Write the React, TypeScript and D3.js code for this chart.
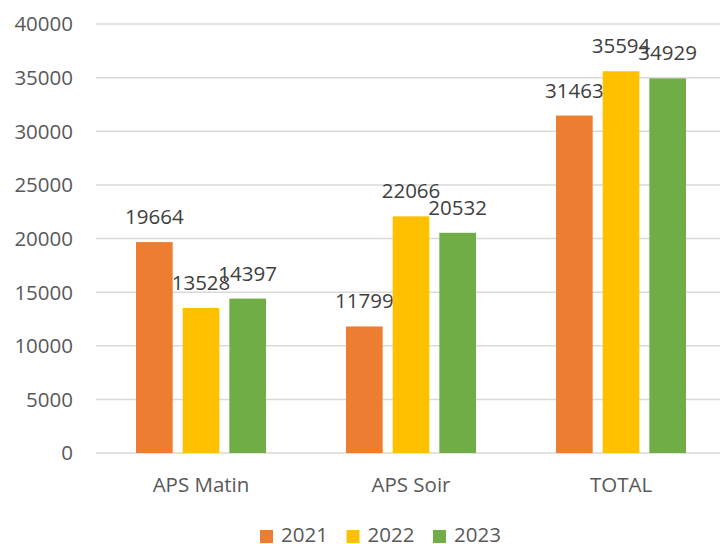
import * as d3 from "d3";

// chart data
const categories = ["APS Matin", "APS Soir", "TOTAL"];
const years = ["2021", "2022", "2023"];
const values2021 = [19664, 11799, 31463];
const values2022 = [13528, 22066, 35594];
const values2023 = [14397, 20532, 34929];
const yTicks = [0, 5000, 10000, 15000, 20000, 25000, 30000, 35000, 40000];

const series = [values2021, values2022, values2023];
const colors = ["#ED7D31", "#FFC000", "#70AD47"];

export default function App() {
  const width = 720;
  const height = 544;
  const font = "'Open Sans', sans-serif";
  const fs = 20.5;

  // scales
  const x0 = d3
    .scaleBand<string>()
    .domain(categories)
    .range([96, 726])
    .paddingInner(0)
    .paddingOuter(0);

  const x1 = d3
    .scaleBand<string>()
    .domain(years)
    .range([40, x0.bandwidth() - 40])
    .paddingInner(0.214)
    .paddingOuter(0);

  const y = d3.scaleLinear().domain([0, 40000]).range([453, 24]);

  return (
    <svg
      width={width}
      height={height}
      style={{ position: "absolute", left: 0, top: 0, background: "#fff" }}
    >
      {/* grid + y labels */}
      {yTicks.map((t) => (
        <g key={t}>
          <line
            x1={96}
            x2={width}
            y1={y(t)}
            y2={y(t)}
            stroke="#d9d9d9"
            strokeWidth={1.5}
          />
          <text
            x={73}
            y={y(t)}
            dy="0.36em"
            textAnchor="end"
            fontFamily={font}
            fontSize={fs}
            fill="#595959"
          >
            {t}
          </text>
        </g>
      ))}

      {/* bars */}
      {categories.map((c, ci) => (
        <g key={c} transform={`translate(${x0(c)},0)`}>
          {years.map((yr, si) => {
            const v = series[si][ci];
            const bx = x1(yr)!;
            return (
              <g key={yr}>
                <rect
                  x={bx}
                  y={y(v)}
                  width={x1.bandwidth()}
                  height={y(0) - y(v)}
                  fill={colors[si]}
                />
                <text
                  x={bx + x1.bandwidth() / 2}
                  y={y(v) - 18}
                  textAnchor="middle"
                  fontFamily={font}
                  fontSize={fs}
                  fill="#404040"
                >
                  {v}
                </text>
              </g>
            );
          })}
          <text
            x={x0.bandwidth() / 2}
            y={492}
            textAnchor="middle"
            fontFamily={font}
            fontSize={fs}
            fill="#595959"
          >
            {c}
          </text>
        </g>
      ))}

      {/* legend */}
      {years.map((yr, i) => {
        const lx = 260 + i * 86.5;
        return (
          <g key={yr}>
            <rect x={lx} y={530} width={13} height={13} fill={colors[i]} />
            <text
              x={lx + 21}
              y={542}
              fontFamily={font}
              fontSize={fs}
              fill="#595959"
            >
              {yr}
            </text>
          </g>
        );
      })}
    </svg>
  );
}
